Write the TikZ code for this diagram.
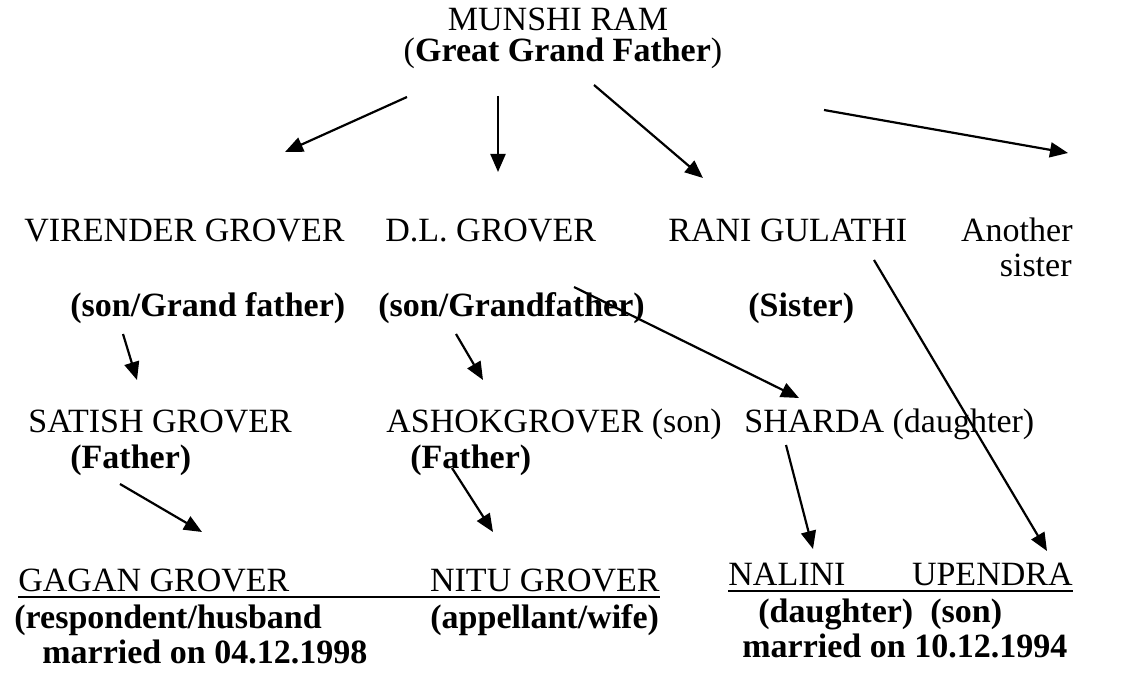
\documentclass[tikz,border=0pt]{standalone}
\usepackage{fontspec}
\setmainfont{Liberation Serif}
\usetikzlibrary{arrows.meta}
\tikzset{
    every node/.style={inner sep=0pt, anchor=base west,
    	font=\fontsize{17}{20}\selectfont}
}
\tikzset{
    arr/.style={line width=1.1pt, -{Triangle[length=9pt,width=7.5pt]}},
    uline/.style={line width=1pt}
}

\begin{document}
\begin{tikzpicture}[x=0.5pt,y=-0.5pt]
  \useasboundingbox (0,0) rectangle (1126,674);
  % names
  \node [anchor=base] (munshi) at (558,31) {MUNSHI RAM};
  \node [anchor=base] (ggf) at (563,62) {(\textbf{Great Grand Father})};
  \node (virender) at (24,242) {VIRENDER GROVER};
  \node (dl) at (385,242) {D.L. GROVER};
  \node (rani) at (668,242) {RANI GULATHI};
  \node [anchor=base east] (another) at (1073,242) {Another};
  \node [anchor=base east] (sister) at (1072,277) {sister};
  \node (vrel) at (70,316) {\textbf{(son/Grand father)}};
  \node (dlrel) at (378,316) {\textbf{(son/Grandfather)}};
  \node (ranirel) at (748,316) {\textbf{(Sister)}};
  \node (satish) at (28,432) {SATISH GROVER};
  \node (ashok) at (386,432) {ASHOKGROVER (son)};
  \node (sharda) at (744,432) {SHARDA (daughter)};
  \node (srel) at (70,468) {\textbf{(Father)}};
  \node (arel) at (410,468) {\textbf{(Father)}};
  \node (gagan) at (18,591) {GAGAN GROVER};
  \node [anchor=base east] (nitu) at (660,591) {NITU GROVER};
  \node (nalini) at (728,585) {NALINI};
  \node [anchor=base east] (upendra) at (1073,585) {UPENDRA};
  \node (grel) at (14,628) {\textbf{(respondent/husband}};
  \node (nrel) at (430,628) {\textbf{(appellant/wife)}};
  \node (narel) at (758,622) {\textbf{(daughter)}};
  \node (urel) at (930,622) {\textbf{(son)}};
  \node (gdate) at (42,663) {\textbf{married on 04.12.1998}};
  \node (ndate) at (742,657) {\textbf{married on 10.12.1994}};
  % arrow ends
  \coordinate (m1) at (407,97);   \coordinate (v1) at (285,152);
  \coordinate (m2) at (498,96);   \coordinate (d1) at (498,172);
  \coordinate (m3) at (594,85);   \coordinate (r1) at (703,178);
  \coordinate (m4) at (824,110);  \coordinate (s1) at (1068,153);
  \coordinate (v2) at (123,334);  \coordinate (st1) at (137,380);
  \coordinate (d2) at (456,334);  \coordinate (as1) at (483,380);
  \coordinate (d3) at (574,287);  \coordinate (sh1) at (799,398);
  \coordinate (r2) at (874,260);  \coordinate (up1) at (1047,551);
  \coordinate (st2) at (120,484); \coordinate (g1) at (202,532);
  \coordinate (as2) at (452,468); \coordinate (n1) at (493,532);
  \coordinate (sh2) at (786,445); \coordinate (na1) at (813,549);
  \draw [arr] (m1) -- (v1);  \draw [arr] (m2) -- (d1);
  \draw [arr] (m3) -- (r1);  \draw [arr] (m4) -- (s1);
  \draw [arr] (v2) -- (st1); \draw [arr] (d2) -- (as1);
  \draw [arr] (d3) -- (sh1); \draw [arr] (r2) -- (up1);
  \draw [arr] (st2) -- (g1); \draw [arr] (as2) -- (n1);
  \draw [arr] (sh2) -- (na1);
  % underlines
  \draw [uline] ([yshift=-3pt]gagan.base west) -- ([yshift=-3pt]nitu.base east);
  \draw [uline] ([yshift=-3pt]nalini.base west) -- ([yshift=-3pt]upendra.base east);
\end{tikzpicture}
\end{document}
